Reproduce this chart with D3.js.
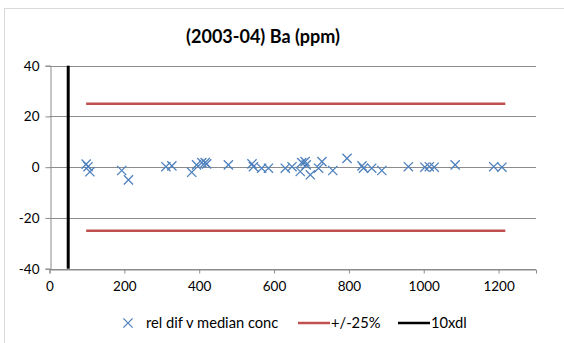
<!DOCTYPE html>
<html><head><meta charset="utf-8">
<script src="https://cdn.jsdelivr.net/npm/d3@7"></script>
<style>body{margin:0;background:#fff}svg{display:block}text{font-family:Lato,"Open Sans",sans-serif}</style>
</head><body>
<script>
// Data
const concX = [98,103,108,193,211,311,327,380,393,407,416,420,478,541,545,567,585,630,648,670,674,683,686,697,719,728,757,795,835,839,861,888,959,1003,1015,1028,1084,1187,1209];
const relDif = [1.2,0.2,-1.8,-1.3,-5.0,0.2,0.5,-2.0,0.9,1.8,1.8,1.3,0.9,1.3,0.2,-0.4,-0.4,-0.4,0.2,-1.7,1.8,2.2,0.9,-3.0,-0.4,2.2,-1.3,3.5,0.5,-0.4,-0.4,-1.3,0.2,0.0,0.2,0.0,0.9,0.2,0.0];
const limitX = [98,1218];
const upperLimit = [25,25];
const lowerLimit = [-25,-25];
const dlX = [50,50];
const dlY = [-40,40];
const xTicks = [0,200,400,600,800,1000,1200];
const yTicks = [-40,-20,0,20,40];
const title = "(2003-04) Ba (ppm)";
const legendLabels = ["rel dif v median conc","+/-25%","10xdl"];

const W=564,H=343;
const svg=d3.select("body").append("svg").attr("width",W).attr("height",H);
svg.append("rect").attr("x",4.5).attr("y",8.5).attr("width",W+10).attr("height",H+10)
  .attr("fill","#fff").attr("stroke","#d9d9d9").attr("stroke-width",1);

const x=d3.scaleLinear().domain([0,1300]).range([49.5,536]);
const y=d3.scaleLinear().domain([-40,40]).range([268.7,65.7]);
const grid="#8c8c8c";
const fmt=d=>String(d);

// gridlines
svg.append("g").selectAll("line").data(yTicks).join("line")
  .attr("x1",x(0)).attr("x2",x(1300)).attr("y1",d=>Math.round(y(d))+0.5).attr("y2",d=>Math.round(y(d))+0.5)
  .attr("stroke",grid).attr("stroke-width",1);

// axes
const yAxis=d3.axisLeft(y).tickValues(yTicks).tickSize(5).tickPadding(6).tickFormat(fmt);
const gy=svg.append("g").attr("transform",`translate(${Math.round(x(0))+0.5},0)`).call(yAxis);
const xAxis=d3.axisBottom(x).tickValues(xTicks).tickSize(4).tickPadding(8).tickFormat(fmt);
const gx=svg.append("g").attr("transform",`translate(0,${Math.round(y(-40))+0.5})`).call(xAxis);
[gx,gy].forEach(g=>{g.select(".domain").attr("stroke",grid);g.selectAll(".tick line").attr("stroke",grid);
  g.selectAll("text").attr("font-size",13.5).attr("fill","#000");});

const line=d3.line().x(d=>x(d[0])).y(d=>y(d[1]));
// limit lines
svg.append("path").datum(limitX.map((v,i)=>[v,upperLimit[i]])).attr("d",line).attr("stroke","#c0504d").attr("stroke-width",2.5).attr("fill","none");
svg.append("path").datum(limitX.map((v,i)=>[v,lowerLimit[i]])).attr("d",line).attr("stroke","#c0504d").attr("stroke-width",2.5).attr("fill","none");
// detection line
svg.append("path").datum(dlX.map((v,i)=>[v,dlY[i]])).attr("d",line).attr("stroke","#000").attr("stroke-width",3).attr("fill","none");

// points
const s=4.6;
const cross=(g,cx,cy)=>g.append("path").attr("d",`M${cx-s},${cy-s}L${cx+s},${cy+s}M${cx-s},${cy+s}L${cx+s},${cy-s}`)
  .attr("stroke","#4f81bd").attr("stroke-width",1.3).attr("fill","none");
const pg=svg.append("g");
concX.forEach((v,i)=>cross(pg,x(v),y(relDif[i])));

// title
svg.append("text").attr("x",263).attr("y",43).attr("text-anchor","middle").attr("font-size",18).attr("font-weight","bold").text(title);

// legend
const ly=323, lfs=14.7;
cross(svg,128,ly);
svg.append("text").attr("x",146).attr("y",ly+5).attr("font-size",lfs).text(legendLabels[0]);
svg.append("line").attr("x1",298).attr("x2",330).attr("y1",ly).attr("y2",ly).attr("stroke","#c0504d").attr("stroke-width",2.5);
svg.append("text").attr("x",331).attr("y",ly+5).attr("font-size",lfs).text(legendLabels[1]);
svg.append("line").attr("x1",398).attr("x2",430).attr("y1",ly).attr("y2",ly).attr("stroke","#000").attr("stroke-width",2.5);
svg.append("text").attr("x",431).attr("y",ly+5).attr("font-size",lfs).text(legendLabels[2]);
</script>
</body></html>
